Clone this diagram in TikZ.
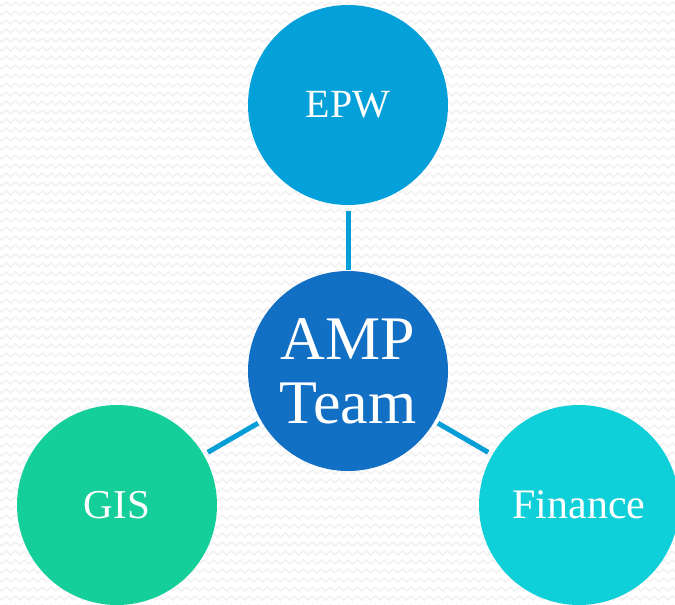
\documentclass[tikz,border=0pt]{standalone}
\usepackage{fontspec}
\setmainfont{Liberation Serif}
\usetikzlibrary{decorations.pathmorphing}
\definecolor{epwc}{HTML}{03A0D9}
\definecolor{ampc}{HTML}{116FC4}
\definecolor{gisc}{HTML}{14CF9A}
\definecolor{finc}{HTML}{0FD0D8}
\definecolor{linkc}{HTML}{069ED6}
\definecolor{bgzz}{HTML}{F1F1F1}
\tikzset{
  bubble/.style={circle, minimum size=200pt, inner sep=0pt, outer sep=0pt, text=white, align=center},
  link/.style={draw=linkc, line width=5pt},
  zz/.style={draw=bgzz, line width=1.4pt, decorate, decoration={zigzag, segment length=9pt, amplitude=2pt}}
}
\begin{document}
\begin{tikzpicture}[x=1pt,y=-1pt]
\useasboundingbox (0,0) rectangle (675,605);
\clip (0,0) rectangle (675,605);
\fill[white] (0,0) rectangle (675,605);
\foreach \r in {0,...,67} {
  \draw[zz] (-5,{4+9*\r}) -- (685,{4+9*\r});
}
\node[bubble, fill=epwc, font=\fontsize{40}{44}\selectfont] (epw) at (348,105) {EPW};
\node[bubble, fill=ampc, font=\fontsize{62}{66}\selectfont] (amp) at (348,371) {AMP\\[-2pt]Team};
\node[bubble, fill=gisc, font=\fontsize{41}{44}\selectfont] (gis) at (117,505) {GIS};
\node[bubble, fill=finc, font=\fontsize{42}{44}\selectfont] (fin) at (579,505) {Finance};
\draw[link, shorten <=1pt, shorten >=6pt] (amp) -- (epw);
\draw[link, shorten <=4pt, shorten >=5pt] (amp) -- (gis);
\draw[link, shorten <=4pt, shorten >=5pt] (amp) -- (fin);
\end{tikzpicture}
\end{document}
